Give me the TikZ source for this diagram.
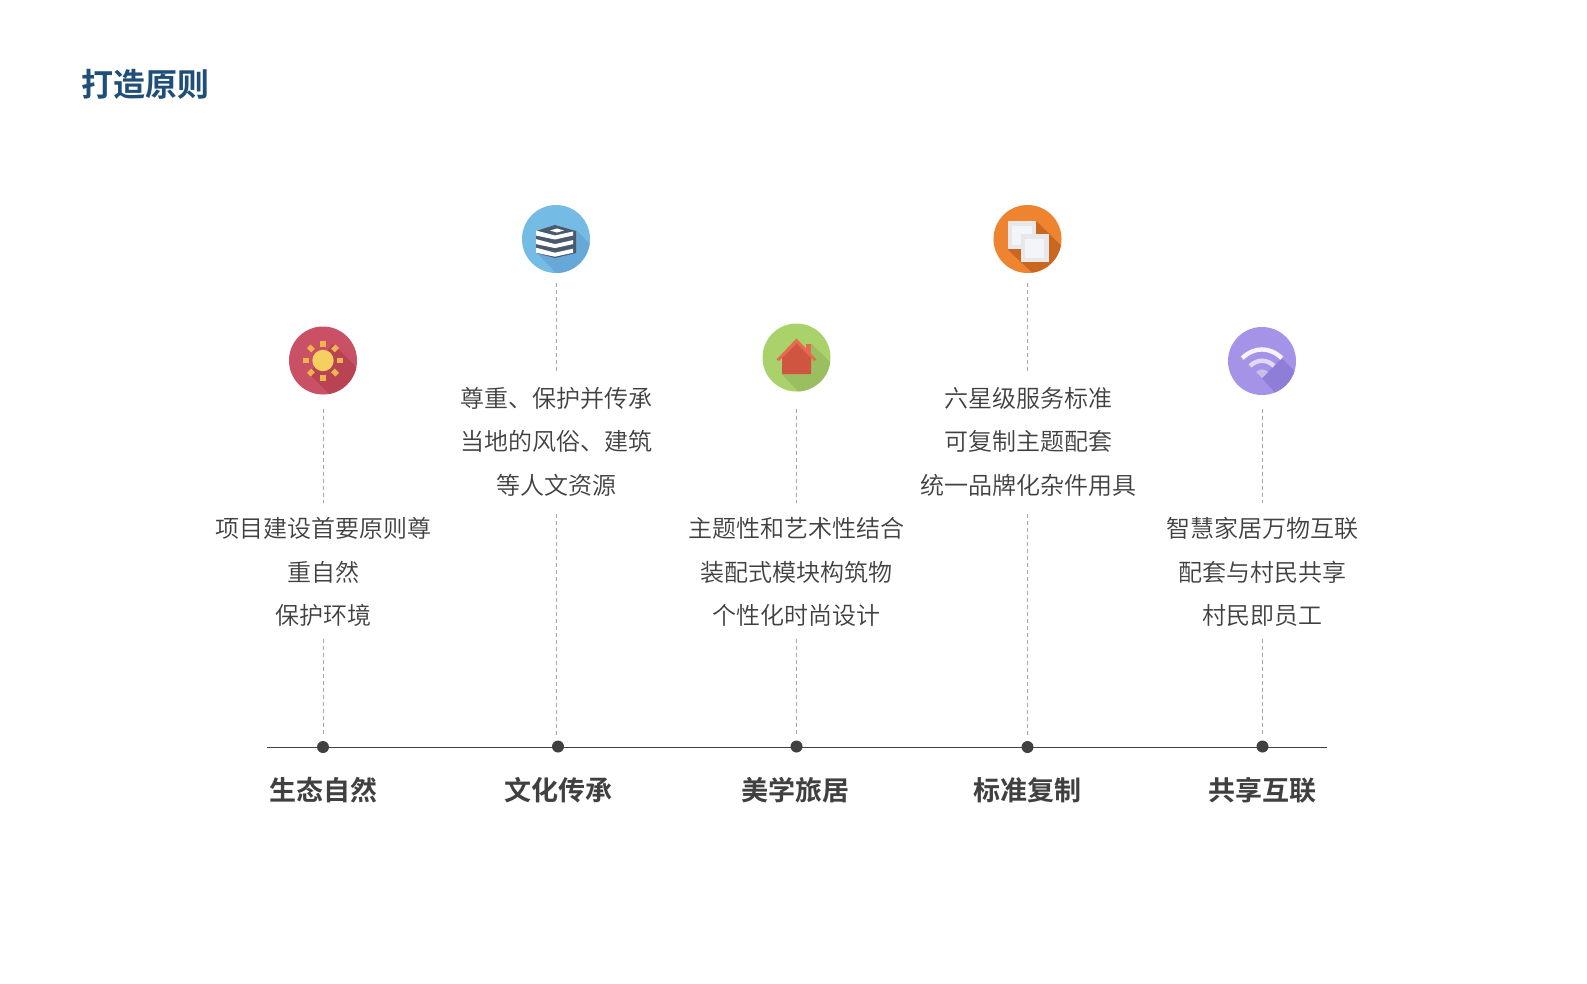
\documentclass[tikz,border=0pt]{standalone}
\usepackage{fontspec}
\newfontfamily\cjklight{Noto Sans CJK SC DemiLight}
\newfontfamily\cjkbold{Noto Sans CJK SC Bold}
\definecolor{ink}{HTML}{404040}
\definecolor{navy}{HTML}{1F4E79}
\definecolor{dashc}{HTML}{A6A6A6}
\begin{document}
\begin{tikzpicture}[x=1pt,y=-1pt,
  badge/.style={circle,minimum size=68pt,inner sep=0pt,outer sep=0pt},
  body/.style={inner sep=0pt,align=center,text=ink,font=\cjklight\fontsize{24}{43.5}\selectfont},
  head/.style={inner sep=0pt,text=ink,font=\cjkbold\fontsize{27}{32}\selectfont},
  title/.style={inner sep=0pt,anchor=west,text=navy,font=\cjkbold\fontsize{32}{38}\selectfont},
  dotm/.style={circle,fill=ink,minimum size=12pt,inner sep=0pt,outer sep=0pt},
  guide/.style={draw=dashc,line width=.9pt,dash pattern=on 4pt off 3pt},
  axis/.style={draw=ink,line width=1pt}]
\useasboundingbox (0,0) rectangle (1587,983);
\fill[white] (0,0) rectangle (1587,983);

\node[title] (t) at (81.5,84) {打造原则};

% axis
\coordinate (axl) at (267,747);
\coordinate (axr) at (1327,747);
\draw[axis] (axl) -- (axr);

% badges
\node[badge,fill={rgb,255:red,201;green,80;blue,101}] (b1) at (323,360.5) {};
\node[badge,fill={rgb,255:red,116;green,187;blue,230}] (b2) at (556,239) {};
\node[badge,fill={rgb,255:red,170;green,210;blue,107}] (b3) at (796.5,357.5) {};
\node[badge,fill={rgb,255:red,238;green,131;blue,48}] (b4) at (1027.5,239) {};
\node[badge,fill={rgb,255:red,165;green,147;blue,232}] (b5) at (1262,361) {};

% sun
\begin{scope}[shift={(b1.center)}]
  \clip (0,0) circle[radius=34];
  \fill[fill={rgb,255:red,184;green,67;blue,82}] (10,-17) -- (70,43) -- (43,70) -- (-14,13) -- cycle;
  \fill[fill={rgb,255:red,245;green,208;blue,96}] (0,0) circle[radius=10.7];
  \foreach \a in {0,45,...,315}
    \fill[fill={rgb,255:red,240;green,182;blue,78},rotate=\a] (-2.6,-20) rectangle (2.6,-14);
\end{scope}

% books
\begin{scope}[shift={(b2.center)}]
  \clip (0,0) circle[radius=34];
  \fill[fill={rgb,255:red,103;green,168;blue,216}] (20,-9) -- (70,41) -- (40,75) -- (-20,13) -- cycle;
  \fill[fill={rgb,255:red,74;green,90;blue,110}] (-20,-8) -- (-1,-14) -- (20,-8) -- (20,14) -- (-1,19) -- (-20,14) -- cycle;
  \fill[white] (-6,-8.5) -- (1,-10.5) -- (8,-8.5) -- (1,-6.5) -- cycle;
  \foreach \d in {0,8.6,17.2}
    \fill[white] (-20,-8.5+\d) -- (-1,-3.5+\d) -- (17,-7.5+\d) -- (17,-3.5+\d)
      -- (-1,.5+\d) -- (-20,-3.5+\d) -- cycle;
\end{scope}

% house
\begin{scope}[shift={(b3.center)}]
  \clip (0,0) circle[radius=34];
  \fill[fill={rgb,255:red,154;green,190;blue,96}] (14.7,-14) -- (70,41) -- (40,75) -- (-14.5,16.7) -- cycle;
  \fill[fill={rgb,255:red,229;green,106;blue,79}] (9.5,-14) rectangle (14.7,0);
  \fill[fill={rgb,255:red,207;green,85;blue,65}] (-14.5,-2) -- (0,-15) -- (14.5,-2) -- (14.5,16.7) -- (-14.5,16.7) -- cycle;
  \fill[fill={rgb,255:red,229;green,106;blue,79}] (-20,2) -- (0,-19) -- (20,2) -- (17.5,3.5) -- (0,-14) -- (-17.5,3.5) -- cycle;
\end{scope}

% copies
\begin{scope}[shift={(b4.center)}]
  \clip (0,0) circle[radius=34];
  \fill[fill={rgb,255:red,201;green,102;blue,31}] (8.7,-18) -- (70,43) -- (43,70) -- (-20,10.3) -- cycle;
  \fill[fill={rgb,255:red,232;green,232;blue,234}] (-20,-18) rectangle (8.7,10.3);
  \fill[fill={rgb,255:red,243;green,245;blue,249}] (-15.5,-13.5) rectangle (4.2,5.8);
  \fill[fill={rgb,255:red,232;green,232;blue,234}] (-7,-5) rectangle (21,23);
  \fill[fill={rgb,255:red,243;green,245;blue,249}] (-2.5,-.5) rectangle (16.5,18.5);
\end{scope}

% wifi
\begin{scope}[shift={(b5.center)}]
  \clip (0,0) circle[radius=34];
  \fill[fill={rgb,255:red,143;green,126;blue,216}] (19.8,-2.8) -- (70,47) -- (47,70) -- (0,17) -- cycle;
  \draw[line width=4.4pt,draw={rgb,255:red,246;green,243;blue,252}] (-19.8,-2.8) .. controls (-8,-14.5) and (8,-14.5) .. (19.8,-2.8);
  \draw[line width=4.4pt,draw={rgb,255:red,224;green,218;blue,245}] (-12,5) .. controls (-5,-2) and (5,-2) .. (12,5);
  \fill[fill={rgb,255:red,201;green,192;blue,234}] (-6,11) .. controls (-2,7.5) and (2,7.5) .. (6,11) -- (0,17) -- cycle;
\end{scope}

% text blocks
\node[body] (x1) at (323,572) {项目建设首要原则尊\\重自然\\保护环境};
\node[body] (x2) at (556,441.5) {尊重、保护并传承\\当地的风俗、建筑\\等人文资源};
\node[body] (x3) at (796.5,572) {主题性和艺术性结合\\装配式模块构筑物\\个性化时尚设计};
\node[body] (x4) at (1028,441.5) {六星级服务标准\\可复制主题配套\\统一品牌化杂件用具};
\node[body] (x5) at (1262,572) {智慧家居万物互联\\配套与村民共享\\村民即员工};

% dots
\node[dotm] (d1) at (323,747) {};
\node[dotm] (d2) at (558,746.5) {};
\node[dotm] (d3) at (796.5,746.5) {};
\node[dotm] (d4) at (1027.5,747) {};
\node[dotm] (d5) at (1262.5,746.5) {};

% headings
\node[head] (h1) at (323,790.5) {生态自然};
\node[head] (h2) at (558,790.5) {文化传承};
\node[head] (h3) at (795,790.5) {美学旅居};
\node[head] (h4) at (1027,790.5) {标准复制};
\node[head] (h5) at (1262,790.5) {共享互联};

% guides
\draw[guide,shorten <=14pt,shorten >=14pt] (b1.south) -- (b1.south |- x1.north);
\draw[guide,shorten <=12pt,shorten >=6pt] (b1.south |- x1.south) -- (b1.south |- d1.north);
\draw[guide,shorten <=10pt,shorten >=13pt] (b2.south) -- (b2.south |- x2.north);
\draw[guide,shorten <=18pt,shorten >=6pt] (b2.south |- x2.south) -- (b2.south |- d2.north);
\draw[guide,shorten <=17pt,shorten >=14pt] (b3.south) -- (b3.south |- x3.north);
\draw[guide,shorten <=12pt,shorten >=6pt] (b3.south |- x3.south) -- (b3.south |- d3.north);
\draw[guide,shorten <=10pt,shorten >=13pt] (b4.south) -- (b4.south |- x4.north);
\draw[guide,shorten <=18pt,shorten >=6pt] (b4.south |- x4.south) -- (b4.south |- d4.north);
\draw[guide,shorten <=14pt,shorten >=14pt] (b5.south) -- (b5.south |- x5.north);
\draw[guide,shorten <=12pt,shorten >=6pt] (b5.south |- x5.south) -- (b5.south |- d5.north);
\end{tikzpicture}
\end{document}
